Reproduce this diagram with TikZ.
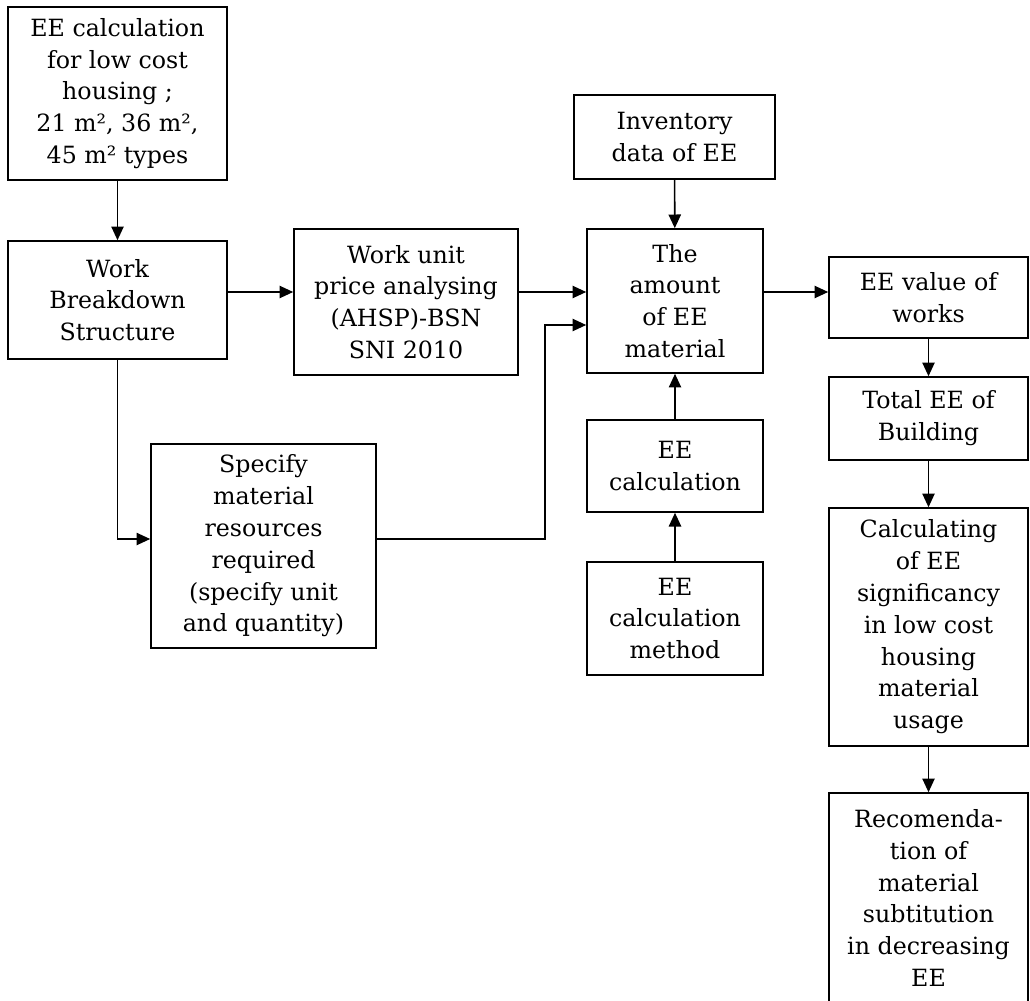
\documentclass[tikz,border=0pt]{standalone}
\usepackage{fontspec}
\setmainfont{DejaVu Serif}
\usetikzlibrary{arrows.meta}

\begin{document}
\begin{tikzpicture}[
  x=0.02cm,y=-0.02cm,
  every node/.style={align=center,font=\fontsize{13.5}{18.1}\selectfont},
  box/.style={draw,line width=0.9pt,inner sep=0pt,minimum width=219*0.02cm},
  arr/.style={-{Triangle[length=7.8pt,width=7pt]},line width=0.9pt}
]
  \useasboundingbox (0,0) rectangle (1030,1000);
  \clip (0,0) rectangle (1030,1000);
  \coordinate (upper) at (0,292);
  \coordinate (lower) at (0,325);
  \coordinate (feed) at (0,539);
  \coordinate (riser) at (545,0);

  % left column
  \node[box,minimum height=173*0.02cm] (calc) at (117.5,93.5)
    {EE calculation\\for low cost\\housing ;\\21 m², 36 m²,\\45 m² types};
  \node[box,minimum height=118*0.02cm] (wbs) at (117.5,300)
    {Work\\Breakdown\\Structure};
  \node[box,minimum width=224*0.02cm,minimum height=146*0.02cm] (price) at (406,302)
    {Work unit\\price analysing\\(AHSP)-BSN\\SNI 2010};
  \node[box,minimum width=225*0.02cm,minimum height=204*0.02cm] (spec) at (263.5,546)
    {Specify\\material\\resources\\required\\(specify unit\\and quantity)};

  % middle column
  \node[box,minimum width=201*0.02cm,minimum height=84*0.02cm] (inv) at (674.5,137)
    {Inventory\\data of EE};
  \node[box,minimum width=176*0.02cm,minimum height=144*0.02cm] (amount) at (675,301)
    {The\\amount\\of EE\\material};
  \node[box,minimum width=176*0.02cm,minimum height=92*0.02cm] (eecalc) at (675,466)
    {EE\\calculation};
  \node[box,minimum width=176*0.02cm,minimum height=113*0.02cm] (method) at (675,618.5)
    {EE\\calculation\\method};

  % right column
  \node[box,minimum width=199*0.02cm,minimum height=81*0.02cm] (value) at (928.5,297.5)
    {EE value of\\works};
  \node[box,minimum width=199*0.02cm,minimum height=83*0.02cm] (total) at (928.5,418.5)
    {Total EE of\\Building};
  \node[box,minimum width=199*0.02cm,minimum height=238*0.02cm] (signif) at (928.5,627)
    {Calculating\\of EE\\significancy\\in low cost\\housing\\material\\usage};
  \node[box,minimum width=199*0.02cm,minimum height=210*0.02cm] (recom) at (928.5,898)
    {Recomenda-\\tion of\\material\\subtitution\\in decreasing\\EE};

  \draw[arr] (calc) -- (wbs);
  \draw[arr] (wbs.east |- upper) -- (price.west |- upper);
  \draw[arr] (price.east |- upper) -- (amount.west |- upper);
  \draw[arr] (amount.east |- upper) -- (value.west |- upper);
  \draw[arr] (wbs.south) |- (spec.west |- feed);
  \draw[arr] (spec.east |- feed) -| (riser |- lower) -- (amount.west |- lower);
  \draw[arr] (inv) -- (amount);
  \draw[arr] (method) -- (eecalc);
  \draw[arr] (eecalc) -- (amount);
  \draw[arr] (value) -- (total);
  \draw[arr] (total) -- (signif);
  \draw[arr] (signif) -- (recom);
\end{tikzpicture}
\end{document}
